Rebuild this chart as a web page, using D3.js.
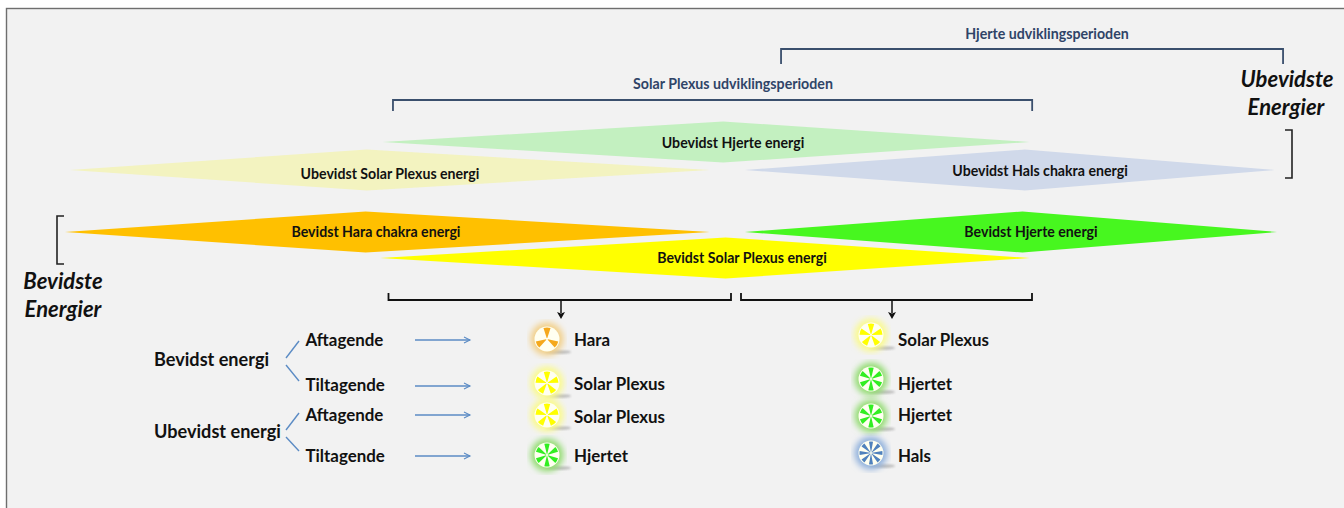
<!DOCTYPE html>
<html>
<head>
<meta charset="utf-8">
<script src="https://cdnjs.cloudflare.com/ajax/libs/d3/7.8.5/d3.min.js"></script>
<style>
html, body { margin: 0; padding: 0; background: #fff; overflow: hidden; }
text { font-family: Lato, "Open Sans", sans-serif; font-weight: 700; }
</style>
</head>
<body>
<svg id="chart" width="1344" height="508"></svg>
<script>
// periods run on a 0-100 axis, each band = start / peak / end
let band_names = ["Ubevidst Hjerte energi", "Ubevidst Solar Plexus energi", "Ubevidst Hals chakra energi",
    "Bevidst Hara chakra energi", "Bevidst Hjerte energi", "Bevidst Solar Plexus energi"];
let band_rows = ["u1", "u2", "u2", "b1", "b1", "b2"];
let band_start = [26.2, 0.4, 56.1, 0, 56.1, 26];
let band_peak = [54.3, 24.9, 79.2, 24.8, 79, 54.5];
let band_end = [79.6, 53.2, 99.8, 53.2, 100, 79.6];

let period_names = ["Solar Plexus udviklingsperioden", "Hjerte udviklingsperioden"];
let period_start = [27.06, 59.08];
let period_end = [79.8, 100.5];

let energy_groups = ["Bevidst energi", "Ubevidst energi"];
let phases = ["Aftagende", "Tiltagende", "Aftagende", "Tiltagende"];
let col1_chakras = ["Hara", "Solar Plexus", "Solar Plexus", "Hjertet"];
let col2_chakras = ["Solar Plexus", "Hjertet", "Hjertet", "Hals"];

let chakra_petals = { "Hara": 3, "Solar Plexus": 5, "Hjertet": 6, "Hals": 8 };
let chakra_color = { "Hara": "#f5a81c", "Solar Plexus": "#ffff00", "Hjertet": "#33ee22", "Hals": "#4f81bd" };
let chakra_glow = { "Hara": "#f2cf86", "Solar Plexus": "#fafa8c", "Hjertet": "#93dc72", "Hals": "#8fb0dc" };

let band_fill = {
    "Ubevidst Hjerte energi": "#c3f0c0",
    "Ubevidst Solar Plexus energi": "#f3f3c0",
    "Ubevidst Hals chakra energi": "#d0d9ea",
    "Bevidst Hara chakra energi": "#ffc000",
    "Bevidst Hjerte energi": "#47f71f",
    "Bevidst Solar Plexus energi": "#ffff00"
};

let svg = d3.select("#chart");
let x = d3.scaleLinear().domain([0, 100]).range([65, 1277]);
let y = d3.scaleOrdinal().domain(["u1", "u2", "b1", "b2"]).range([142, 170, 232, 258]);
let table_y = i => [340, 385, 415, 456][i];

function draw_background() {
    svg.append("rect").attr("x", 6.5).attr("y", 8.5).attr("width", 1345).attr("height", 510)
        .attr("fill", "#f2f2f2").attr("stroke", "#6e6e6e").attr("stroke-width", 1.4);
}

function draw_bands() {
    let half = 20.5;
    let g = svg.append("g");
    let bands = band_names.map((name, i) => ({ name, row: band_rows[i], s: band_start[i], p: band_peak[i], e: band_end[i] }));
    g.selectAll("path").data(bands).join("path")
        .attr("fill", d => band_fill[d.name])
        .attr("d", d => {
            let cy = y(d.row);
            return d3.line()([[x(d.s), cy], [x(d.p), cy - half], [x(d.e), cy], [x(d.p), cy + half]]) + "Z";
        });
    g.selectAll("text").data(bands).join("text")
        .attr("x", (d, i) => [733, 390, 1040, 376, 1031, 742][i])
        .attr("y", (d, i) => y(d.row) + [6, 9, 6, 5, 5, 5][i])
        .attr("text-anchor", "middle")
        .attr("font-size", 14.15)
        .attr("fill", "#111")
        .text(d => d.name);
}

function bracket(path, color, width) {
    svg.append("path").attr("d", path).attr("fill", "none")
        .attr("stroke", color).attr("stroke-width", width);
}

function draw_periods() {
    let tops = [100, 49];
    let ticks = [11, 15];
    period_names.forEach((name, i) => {
        let x0 = x(period_start[i]), x1 = x(period_end[i]);
        bracket(`M${x0},${tops[i] + ticks[i]}V${tops[i]}H${x1}V${tops[i] + ticks[i]}`, "#3a4f6d", 1.8);
        svg.append("text").attr("x", [733, 1047][i]).attr("y", tops[i] - [11, 10][i])
            .attr("text-anchor", "middle").attr("font-size", 14.2).attr("fill", "#2f4467").text(name);
    });
    // black brackets over the table
    bracket("M388.5,293V300H731V293", "#111", 1.8);
    bracket("M741,293V300H1032V293", "#111", 1.8);
    bracket("M561,300V313", "#111", 1.5);
    bracket("M892,300V313", "#111", 1.5);
    svg.append("path").attr("d", "M557,312L561,319L565,312L561,313.5Z").attr("fill", "#111");
    svg.append("path").attr("d", "M888,312L892,319L896,312L892,313.5Z").attr("fill", "#111");
    // side brackets
    bracket("M64,216H57V264H64", "#222", 1.6);
    bracket("M1285,130H1292V178H1285", "#222", 1.6);
    let big = (t, tx, ty) => svg.append("text").attr("x", tx).attr("y", ty).attr("text-anchor", "middle")
        .attr("font-size", 22).attr("font-style", "italic").attr("fill", "#111").text(t);
    big("Bevidste", 63, 289);
    big("Energier", 63, 317);
    big("Ubevidste", 1287, 87);
    big("Energier", 1286, 115);
}

function draw_chakra(name, cx, cy) {
    let r = 12.5;
    let n = chakra_petals[name];
    let g = svg.append("g").attr("transform", `translate(${cx},${cy})`);
    g.append("ellipse").attr("cx", 11).attr("cy", 13).attr("rx", 13).attr("ry", 1.8)
        .attr("fill", "#8a8a8a").attr("opacity", 0.55).attr("filter", "url(#soft)");
    g.append("circle").attr("r", r + 4).attr("fill", chakra_glow[name]).attr("filter", "url(#glow)");
    g.append("circle").attr("r", r).attr("fill", "#fffff0").attr("filter", "url(#edge)");
    let petal_w = 2 * Math.PI / n * (n == 3 ? 0.3 : 0.45);
    let arc = d3.arc().innerRadius(1).outerRadius(r - 1);
    g.selectAll("path.petal").data(d3.range(n)).join("path")
        .attr("class", "petal")
        .attr("fill", chakra_color[name])
        .attr("filter", "url(#edge)")
        .attr("d", i => arc({ startAngle: i * 2 * Math.PI / n - petal_w / 2, endAngle: i * 2 * Math.PI / n + petal_w / 2 }));
}

function draw_table() {
    let arrow = (x0, x1, yy) => {
        svg.append("path").attr("d", `M${x0},${yy}H${x1}`).attr("stroke", "#5b8bc4").attr("stroke-width", 1.3);
        svg.append("path").attr("d", `M${x1 - 6},${yy - 3}L${x1},${yy}L${x1 - 6},${yy + 3}`)
            .attr("fill", "none").attr("stroke", "#5b8bc4").attr("stroke-width", 1.1);
    };
    energy_groups.forEach((name, i) => {
        svg.append("text").attr("x", 154).attr("y", [366, 438][i]).attr("font-size", 18.1)
            .attr("fill", "#111").text(name);
    });
    bracket("M299,341L286,358", "#5b8bc4", 1.4);
    bracket("M286,365L299,381", "#5b8bc4", 1.4);
    bracket("M299,413L286,430", "#5b8bc4", 1.4);
    bracket("M286,437L299,451", "#5b8bc4", 1.4);
    phases.forEach((name, i) => {
        let yy = table_y(i);
        svg.append("text").attr("x", 305.5).attr("y", yy + 5.5).attr("font-size", 16.9)
            .attr("fill", "#111").text(name);
        arrow(415, 470, [340, 386, 415, 456][i]);
        draw_chakra(col1_chakras[i], 547, [339, 383, 415, 455][i]);
        svg.append("text").attr("x", 574).attr("y", [346, 390, 423, 462][i]).attr("font-size", 16.9)
            .attr("fill", "#111").text(col1_chakras[i]);
        draw_chakra(col2_chakras[i], 871, [335, 379, 416, 453][i]);
        svg.append("text").attr("x", 898).attr("y", [346, 390, 421, 462][i]).attr("font-size", 16.9)
            .attr("fill", "#111").text(col2_chakras[i]);
    });
}

function main() {
    let defs = svg.append("defs");
    defs.append("filter").attr("id", "glow").append("feGaussianBlur").attr("stdDeviation", 3);
    defs.append("filter").attr("id", "soft").append("feGaussianBlur").attr("stdDeviation", 1.2);
    defs.append("filter").attr("id", "edge").append("feGaussianBlur").attr("stdDeviation", 0.5);
    draw_background();
    draw_bands();
    draw_periods();
    draw_table();
}

main();
</script>
</body>
</html>
